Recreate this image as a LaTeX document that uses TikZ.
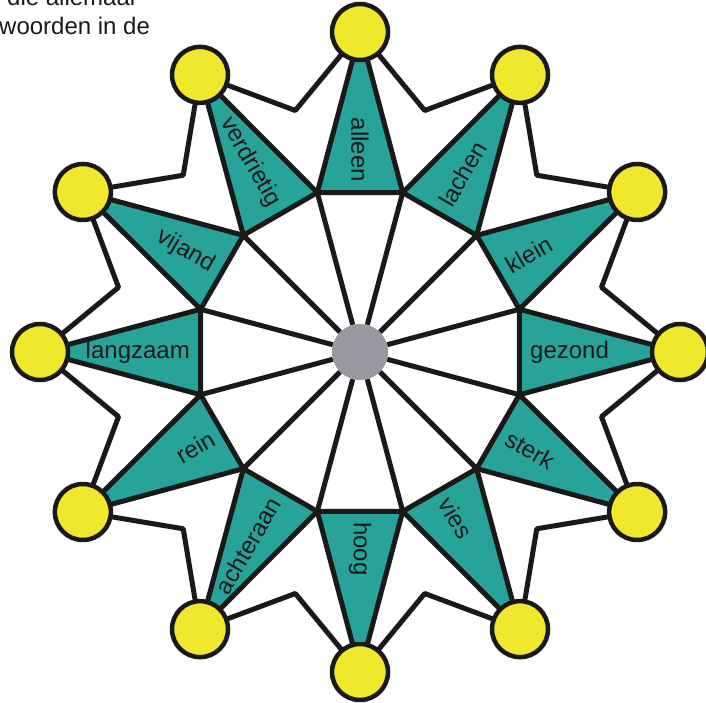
\documentclass[tikz,border=0pt]{standalone}
\usepackage{fontspec}
\setmainfont{Liberation Sans}
\usepackage{tikz}
\usetikzlibrary{calc}
\definecolor{petrol}{RGB}{40,163,153}
\definecolor{lemon}{RGB}{240,232,45}
\definecolor{hubgray}{RGB}{152,152,160}

\begin{document}
\begin{tikzpicture}[x=1pt, y=1pt,
  line/.style={line width=5pt, black!90, line join=round},
  wedge/.style={line, fill=petrol},
  dot/.style={circle, draw=black!90, line width=4.5pt, fill=lemon, minimum size=56pt, inner sep=0pt},
  hubdot/.style={circle, fill=hubgray, minimum size=56pt, inner sep=0pt},
  word/.style={inner sep=0pt, font=\fontsize{24}{28}\selectfont, text=black!90}
]
\useasboundingbox (0,0) rectangle (706,702);
\clip (0,0) rectangle (706,702);

% header text, cut off at the top
\node[word, anchor=base west] (head1) at (7,696) {die allemaal};
\node[word, anchor=base west] (head2) at (-1,667) {woorden in de};

\coordinate (c) at (360,350);
\foreach \i in {0,...,11} {
  \coordinate (p\i) at ($(c)+({90+30*\i}:320)$);
  \coordinate (v\i) at ($(c)+({75+30*\i}:165)$);
  \coordinate (w\i) at ($(c)+({105+30*\i}:250)$);
}

\node[hubdot] (hub) at (c) {};

% spokes and outer zigzag
\foreach \i in {0,...,11} {
  \pgfmathtruncatemacro\j{mod(\i+1,12)}
  \draw[line] (hub) -- (v\i);
  \draw[line] (p\i) -- (w\i) -- (p\j);
}

% teal wedges
\foreach \i in {0,...,11} {
  \pgfmathtruncatemacro\j{mod(\i+1,12)}
  \filldraw[wedge] (v\i) -- (p\i) -- (v\j) -- cycle;
}

% yellow dots
\foreach \i in {0,...,11}
  \node[dot] (dot\i) at (p\i) {};

% words
\foreach \ang/\txt in {0/gezond, 30/klein, 60/lachen, 90/alleen, 120/verdrietig,
    150/vijand, 180/langzaam, 210/rein, 240/achteraan, 270/hoog, 300/vies, 330/sterk} {
  \ifnum\ang<90
    \def\rot{\ang}\def\anc{west}
  \else\ifnum\ang<270
    \pgfmathsetmacro\rot{\ang-180}\def\anc{east}
  \else
    \def\rot{\ang}\def\anc{west}
  \fi\fi
  \node[word, rotate=\rot, anchor=\anc] (lbl\ang) at ($(c)+(\ang:170)$) {\txt};
}
\end{tikzpicture}
\end{document}
